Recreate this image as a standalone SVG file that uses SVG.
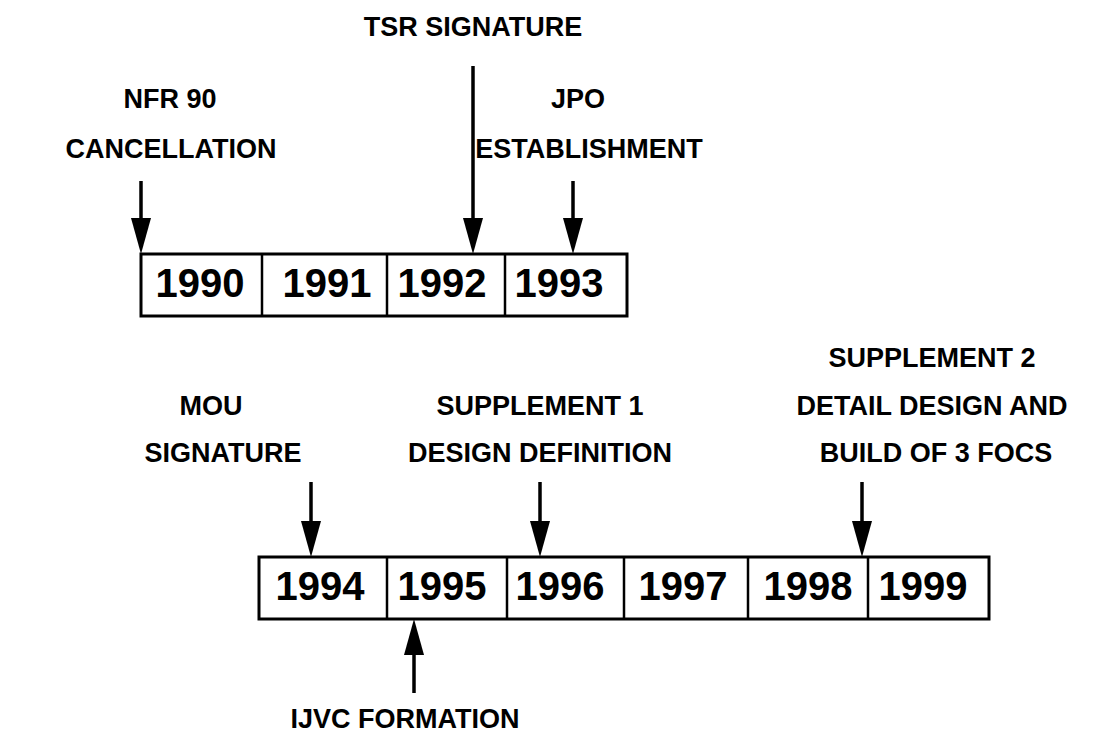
<svg xmlns="http://www.w3.org/2000/svg" width="1104" height="734" viewBox="0 0 1104 734">
<style>
.lbl{font-family:"Liberation Sans",Arial,Helvetica,sans-serif;font-weight:bold;font-size:27px;fill:#000;text-anchor:middle}
.yr{font-family:"Liberation Sans",Arial,Helvetica,sans-serif;font-weight:bold;font-size:40px;fill:#000;text-anchor:middle}
.box{fill:#fff;stroke:#000;stroke-width:3}
.div{stroke:#000;stroke-width:2.5}
.arr{stroke:#000;stroke-width:3.5;fill:none;marker-end:url(#ah)}
</style>
<defs>
<marker id="ah" viewBox="0 0 36 20" refX="16" refY="10" markerWidth="36" markerHeight="20" markerUnits="userSpaceOnUse" orient="auto">
<path d="M0,0 L36,10 L0,20 z" fill="#000"/>
</marker>
</defs>
<rect width="1104" height="734" fill="#fff"/>
<g id="timeline-top">
<rect class="box" x="141" y="254" width="486" height="62"/>
<line class="div" x1="262" y1="254" x2="262" y2="316"/>
<line class="div" x1="387" y1="254" x2="387" y2="316"/>
<line class="div" x1="505" y1="254" x2="505" y2="316"/>
<text class="yr" x="200" y="297">1990</text>
<text class="yr" x="327" y="297">1991</text>
<text class="yr" x="442" y="297">1992</text>
<text class="yr" x="559" y="297">1993</text>
</g>
<g id="timeline-bottom">
<rect class="box" x="259" y="557" width="730" height="62"/>
<line class="div" x1="387" y1="557" x2="387" y2="619"/>
<line class="div" x1="507" y1="557" x2="507" y2="619"/>
<line class="div" x1="624" y1="557" x2="624" y2="619"/>
<line class="div" x1="748" y1="557" x2="748" y2="619"/>
<line class="div" x1="868" y1="557" x2="868" y2="619"/>
<text class="yr" x="320" y="600">1994</text>
<text class="yr" x="442" y="600">1995</text>
<text class="yr" x="560" y="600">1996</text>
<text class="yr" x="683" y="600">1997</text>
<text class="yr" x="808" y="600">1998</text>
<text class="yr" x="923" y="600">1999</text>
</g>
<g id="label-nfr"><text class="lbl" x="170" y="108">NFR 90</text><text class="lbl" x="171" y="158">CANCELLATION</text></g>
<g id="label-tsr"><text class="lbl" x="473" y="36">TSR SIGNATURE</text></g>
<g id="label-jpo"><text class="lbl" x="578" y="108">JPO</text><text class="lbl" x="589" y="158">ESTABLISHMENT</text></g>
<g id="label-mou"><text class="lbl" x="211" y="415">MOU</text><text class="lbl" x="223" y="462">SIGNATURE</text></g>
<g id="label-sup1"><text class="lbl" x="540" y="415">SUPPLEMENT 1</text><text class="lbl" x="540" y="462">DESIGN DEFINITION</text></g>
<g id="label-sup2"><text class="lbl" x="932" y="367">SUPPLEMENT 2</text><text class="lbl" x="932" y="415">DETAIL DESIGN AND</text><text class="lbl" x="936" y="462">BUILD OF 3 FOCS</text></g>
<g id="label-ijvc"><text class="lbl" x="405" y="728">IJVC FORMATION</text></g>
<g id="connectors">
<line class="arr" x1="141" y1="181" x2="141" y2="234"/>
<line class="arr" x1="473" y1="66" x2="473" y2="234"/>
<line class="arr" x1="573" y1="181" x2="573" y2="234"/>
<line class="arr" x1="311" y1="482" x2="311" y2="537"/>
<line class="arr" x1="540" y1="482" x2="540" y2="537"/>
<line class="arr" x1="862" y1="482" x2="862" y2="537"/>
<line class="arr" x1="414" y1="693" x2="414" y2="639"/>
</g>
</svg>
